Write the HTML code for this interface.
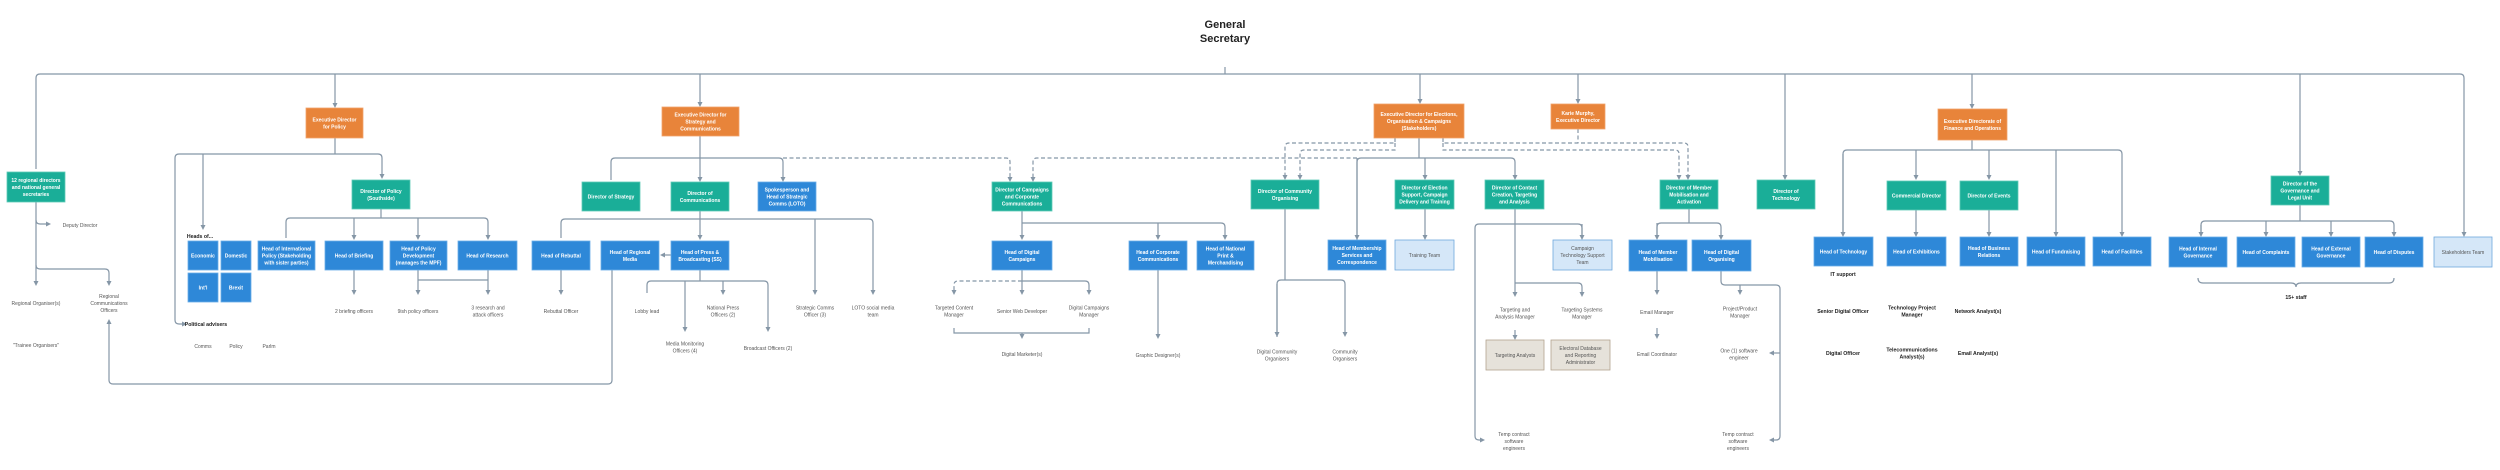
<!DOCTYPE html>
<html><head><meta charset="utf-8"><style>
html,body{margin:0;padding:0;background:#fff;}
svg{display:block;font-family:"Liberation Sans",sans-serif;}
.bx text{font-weight:bold;fill:#fff;font-size:5px;text-anchor:middle;}
.lt text{fill:#555;font-size:5px;text-anchor:middle;}
.lb text{fill:#222;font-size:5.2px;font-weight:bold;text-anchor:middle;}
.ln{fill:none;stroke:#8596a6;stroke-width:1.2;}
.ds{stroke-dasharray:4 2.5;}
</style></head><body>
<svg width="2500" height="470" viewBox="0 0 2500 470" xmlns="http://www.w3.org/2000/svg">
<defs><marker id="a" markerWidth="6" markerHeight="6" refX="3" refY="3" orient="auto" markerUnits="userSpaceOnUse"><path d="M0,0.5 L5,3 L0,5.5z" fill="#8596a6"/></marker></defs>
<text x="1225" y="28" font-size="11" font-weight="bold" text-anchor="middle" fill="#222">General</text>
<text x="1225" y="42" font-size="11" font-weight="bold" text-anchor="middle" fill="#222">Secretary</text>
<g class="ln">
<path d="M1225,67 V74"/>
<path d="M36,169 V78 Q36,74 40,74 H2460 Q2464,74 2464,78 V235" marker-end="url(#a)"/>
<path d="M335,74 V106" marker-end="url(#a)"/><path d="M700,74 V105" marker-end="url(#a)"/>
<path d="M1420,74 V102" marker-end="url(#a)"/><path d="M1578,74 V102" marker-end="url(#a)"/>
<path d="M1785,74 V178" marker-end="url(#a)"/><path d="M1972,74 V107" marker-end="url(#a)"/>
<path d="M2300,74 V174" marker-end="url(#a)"/>
<path d="M335,138 V154"/>
<path d="M175,320 V158 Q175,154 179,154 H378 Q382,154 382,158 V177" marker-end="url(#a)"/>
<path d="M175,320 Q175,324 179,324 H185" marker-end="url(#a)"/>
<path d="M203,154 V228" marker-end="url(#a)"/>
<path d="M36,202 V284" marker-end="url(#a)"/>
<path d="M36,220 Q36,224 40,224 H49" marker-end="url(#a)"/>
<path d="M36,265 Q36,269 40,269 H105 Q109,269 109,273 V284" marker-end="url(#a)"/>
<path d="M612,270 V380 Q612,384 608,384 H113 Q109,384 109,380 V321" marker-end="url(#a)"/>
<path d="M381,209 V218"/>
<path d="M286,238 V222 Q286,218 290,218 H484 Q488,218 488,222 V238" marker-end="url(#a)"/>
<path d="M354,218 V238" marker-end="url(#a)"/><path d="M418,218 V238" marker-end="url(#a)"/>
<path d="M354,270 V293" marker-end="url(#a)"/><path d="M418,270 V293" marker-end="url(#a)"/>
<path d="M488,270 V293" marker-end="url(#a)"/><path d="M418,280 H488"/>
<path d="M700,136 V180" marker-end="url(#a)"/>
<path d="M611,180 V162 Q611,158 615,158 H779 Q783,158 783,162 V180" marker-end="url(#a)"/>
<path d="M700,211 V238" marker-end="url(#a)"/>
<path d="M561,238 V223 Q561,219 565,219 H869 Q873,219 873,223 V293" marker-end="url(#a)"/>
<path d="M815,219 V293" marker-end="url(#a)"/>
<path d="M561,270 V293" marker-end="url(#a)"/>
<path d="M671,255 H662" marker-end="url(#a)"/>
<path d="M700,270 V281"/>
<path d="M647,293 V285 Q647,281 651,281 H764 Q768,281 768,285 V330" marker-end="url(#a)"/>
<path d="M685,281 V330" marker-end="url(#a)"/><path d="M723,281 V293" marker-end="url(#a)"/>
<path d="M1022,211 V238" marker-end="url(#a)"/>
<path d="M1022,223 H1221 Q1225,223 1225,227 V238" marker-end="url(#a)"/>
<path d="M1158,223 V238" marker-end="url(#a)"/>
<path d="M1022,270 V293" marker-end="url(#a)"/>
<path d="M1022,281 H1085 Q1089,281 1089,285 V293" marker-end="url(#a)"/>
<path class="ds" d="M1022,281 H958 Q954,281 954,285 V293" marker-end="url(#a)"/>
<path d="M954,328 V333 H1089 V328"/><path d="M1022,333 V337" marker-end="url(#a)"/>
<path d="M1158,270 V337" marker-end="url(#a)"/>
<path class="ds" d="M783,158 H1006 Q1010,158 1010,162 V180" marker-end="url(#a)"/>
<path class="ds" d="M1357,158 H1037 Q1033,158 1033,162 V180" marker-end="url(#a)"/>
<path d="M1419,138 V158"/>
<path d="M1357,240 V162 Q1357,158 1361,158 H1511 Q1515,158 1515,162 V178" marker-end="url(#a)"/>
<path d="M1357,158 V238" marker-end="url(#a)"/>
<path d="M1425,158 V178" marker-end="url(#a)"/>
<path class="ds" d="M1395,138 V143 H1289 Q1285,143 1285,147 V178" marker-end="url(#a)"/>
<path class="ds" d="M1395,143 V150 H1304 Q1300,150 1300,154 V178" marker-end="url(#a)"/>
<path class="ds" d="M1443,138 V143 H1684 Q1688,143 1688,147 V178" marker-end="url(#a)"/>
<path class="ds" d="M1443,143 V150 H1675 Q1679,150 1679,154 V178" marker-end="url(#a)"/>
<path class="ds" d="M1578,129 V143"/>
<path d="M1425,209 V238" marker-end="url(#a)"/>
<path d="M1285,209 V280"/>
<path d="M1277,337 V284 Q1277,280 1281,280 H1341 Q1345,280 1345,284 V335" marker-end="url(#a)"/>
<path d="M1277,284 V335" marker-end="url(#a)"/>
<path d="M1515,209 V295" marker-end="url(#a)"/>
<path d="M1582,238 V228 Q1582,224 1578,224 H1479 Q1475,224 1475,228 V436 Q1475,440 1479,440 H1483" marker-end="url(#a)"/>
<path d="M1582,224 V238" marker-end="url(#a)"/>
<path d="M1515,283 H1578 Q1582,283 1582,287 V295" marker-end="url(#a)"/>
<path d="M1515,330 V338" marker-end="url(#a)"/>
<path d="M1689,209 V223"/>
<path d="M1657,238 V227 Q1657,223 1661,223 H1717 Q1721,223 1721,227 V238" marker-end="url(#a)"/>
<path d="M1657,223 V238" marker-end="url(#a)"/>
<path d="M1657,271 V293" marker-end="url(#a)"/><path d="M1657,328 V337" marker-end="url(#a)"/>
<path d="M1721,271 V281 Q1721,285 1725,285 H1776 Q1780,285 1780,289 V436 Q1780,440 1776,440 H1771" marker-end="url(#a)"/>
<path d="M1740,285 V293" marker-end="url(#a)"/>
<path d="M1780,353 H1771" marker-end="url(#a)"/>
<path d="M1972,140 V150"/>
<path d="M1843,235 V154 Q1843,150 1847,150 H2118 Q2122,150 2122,154 V235" marker-end="url(#a)"/>
<path d="M1843,154 V235" marker-end="url(#a)"/>
<path d="M1916,150 V178" marker-end="url(#a)"/><path d="M1989,150 V178" marker-end="url(#a)"/>
<path d="M2056,150 V235" marker-end="url(#a)"/>
<path d="M1916,210 V235" marker-end="url(#a)"/><path d="M1989,210 V235" marker-end="url(#a)"/>
<path d="M2300,205 V221"/>
<path d="M2201,235 V225 Q2201,221 2205,221 H2390 Q2394,221 2394,225 V235" marker-end="url(#a)"/>
<path d="M2201,225 V235" marker-end="url(#a)"/>
<path d="M2266,221 V235" marker-end="url(#a)"/><path d="M2331,221 V235" marker-end="url(#a)"/>
<path d="M2198,278 Q2198,283 2203,283 H2291 Q2296,283 2296,287 Q2296,283 2301,283 H2389 Q2394,283 2394,278"/>
</g>
<g class="bx" id="boxes"></g>
<g class="lt" id="labels"></g>
<g class="lb" id="bold"></g>
<script>
var NS="http://www.w3.org/2000/svg";
function el(p,n,a,t){var e=document.createElementNS(NS,n);for(var k in a)e.setAttribute(k,a[k]);if(t!==undefined)e.textContent=t;p.appendChild(e);return e;}
var C={O:["#e8843a","#f0a36b"],T:["#1aae98","#5fcab8"],B:["#2e88d8","#6aaee8"],L:["#d5e7f8","#6fa8dc"],G:["#e6e2da","#b3a48f"]};
var bx=[
["O",306,108,57,30,["Executive Director","for Policy"]],
["O",662,107,77,29,["Executive Director for","Strategy and","Communications"]],
["O",1374,104,90,34,["Executive Director for Elections,","Organisation & Campaigns","(Stakeholders)"]],
["O",1551,104,54,25,["Karie Murphy,","Executive Director"]],
["O",1938,109,69,31,["Executive Directorate of","Finance and Operations"]],
["T",7,172,58,30,["12 regional directors","and national general","secretaries"]],
["T",352,180,58,29,["Director of Policy","(Southside)"]],
["T",582,182,58,29,["Director of Strategy"]],
["T",671,182,58,29,["Director of","Communications"]],
["T",992,182,60,29,["Director of Campaigns","and Corporate","Communications"]],
["T",1251,180,68,29,["Director of Community","Organising"]],
["T",1395,180,59,29,["Director of Election","Support, Campaign","Delivery and Training"]],
["T",1485,180,59,29,["Director of Contact","Creation, Targeting","and Analysis"]],
["T",1660,180,58,29,["Director of Member","Mobilisation and","Activation"]],
["T",1757,180,58,29,["Director of","Technology"]],
["T",1887,181,59,29,["Commercial Director"]],
["T",1960,181,58,29,["Director of Events"]],
["T",2271,176,58,29,["Director of the","Governance and","Legal Unit"]],
["B",188,241,30,29,["Economic"]],["B",221,241,30,29,["Domestic"]],
["B",188,273,30,29,["Int'l"]],["B",221,273,30,29,["Brexit"]],
["B",258,241,57,29,["Head of International","Policy (Stakeholding","with sister parties)"]],
["B",325,241,58,29,["Head of Briefing"]],
["B",390,241,57,29,["Head of Policy","Development","(manages the MPF)"]],
["B",458,241,59,29,["Head of Research"]],
["B",758,182,58,29,["Spokesperson and","Head of Strategic","Comms (LOTO)"]],
["B",532,241,58,29,["Head of Rebuttal"]],
["B",601,241,58,29,["Head of Regional","Media"]],
["B",671,241,58,29,["Head of Press &","Broadcasting (SS)"]],
["B",992,241,60,29,["Head of Digital","Campaigns"]],
["B",1129,241,58,29,["Head of Corporate","Communications"]],
["B",1197,241,57,29,["Head of National","Print &","Merchandising"]],
["B",1328,240,58,30,["Head of Membership","Services and","Correspondence"]],
["B",1629,240,58,31,["Head of Member","Mobilisation"]],
["B",1692,240,59,31,["Head of Digital","Organising"]],
["B",1814,237,59,29,["Head of Technology"]],
["B",1887,237,59,29,["Head of Exhibitions"]],
["B",1960,237,58,29,["Head of Business","Relations"]],
["B",2027,237,58,29,["Head of Fundraising"]],
["B",2093,237,58,29,["Head of Facilities"]],
["B",2169,237,58,30,["Head of Internal","Governance"]],
["B",2237,237,58,30,["Head of Complaints"]],
["B",2302,237,58,30,["Head of External","Governance"]],
["B",2365,237,58,30,["Head of Disputes"]],
["L",1395,240,59,30,["Training Team"]],
["L",1553,240,59,30,["Campaign","Technology Support","Team"]],
["L",2434,237,58,30,["Stakeholders Team"]],
["G",1486,340,58,30,["Targeting Analysts"]],
["G",1551,340,59,30,["Electoral Database","and Reporting","Administrator"]]
];
var g=document.getElementById("boxes");
bx.forEach(function(b){var c=C[b[0]];el(g,"rect",{x:b[1],y:b[2],width:b[3],height:b[4],fill:c[0],stroke:c[1],"stroke-width":0.8});
var n=b[5].length,cy=b[2]+b[4]/2-(n-1)*3.5+1.8;
b[5].forEach(function(t,i){var tx=el(g,"text",{x:b[1]+b[3]/2,y:cy+i*7},t);if(b[0]=="L"||b[0]=="G"){tx.setAttribute("style","fill:#555;font-weight:normal");}});});
function lab(id,arr){var p=document.getElementById(id);arr.forEach(function(l){var n=l[2].length,cy=l[1]-(n-1)*3.5+1.8;l[2].forEach(function(t,i){el(p,"text",{x:l[0],y:cy+i*7},t);});});}
lab("labels",[
[80,225,["Deputy Director"]],[36,303,["Regional Organiser(s)"]],[109,303,["Regional","Communications","Officers"]],
[36,345,["\"Trainee Organisers\""]],[203,346,["Comms"]],[236,346,["Policy"]],[269,346,["Parlm"]],
[354,311,["2 briefing officers"]],[418,311,["9ish policy officers"]],[488,311,["3 research and","attack officers"]],
[561,311,["Rebuttal Officer"]],[647,311,["Lobby lead"]],[723,311,["National Press","Officers (2)"]],
[685,347,["Media Monitoring","Officers (4)"]],[768,348,["Broadcast Officers (2)"]],
[815,311,["Strategic Comms","Officer (3)"]],[873,311,["LOTO social media","team"]],
[954,311,["Targeted Content","Manager"]],[1022,311,["Senior Web Developer"]],[1089,311,["Digital Campaigns","Manager"]],
[1022,354,["Digital Marketer(s)"]],[1158,355,["Graphic Designer(s)"]],
[1277,355,["Digital Community","Organisers"]],[1345,355,["Community","Organisers"]],
[1515,313,["Targeting and","Analysis Manager"]],[1582,313,["Targeting Systems","Manager"]],
[1514,441,["Temp contract","software","engineers"]],[1657,312,["Email Manager"]],[1657,354,["Email Coordinator"]],
[1740,312,["Project/Product","Manager"]],[1739,354,["One (1) software","engineer"]],[1738,441,["Temp contract","software","engineers"]]
]);
lab("bold",[
[200,236,["Heads of..."]],[206,324,["Political advisers"]],[1843,274,["IT support"]],
[1843,311,["Senior Digital Officer"]],[1843,353,["Digital Officer"]],[1912,311,["Technology Project","Manager"]],
[1912,353,["Telecommunications","Analyst(s)"]],[1978,311,["Network Analyst(s)"]],[1978,353,["Email Analyst(s)"]],
[2296,297,["15+ staff"]]
]);
</script>
</svg>
</body></html>
